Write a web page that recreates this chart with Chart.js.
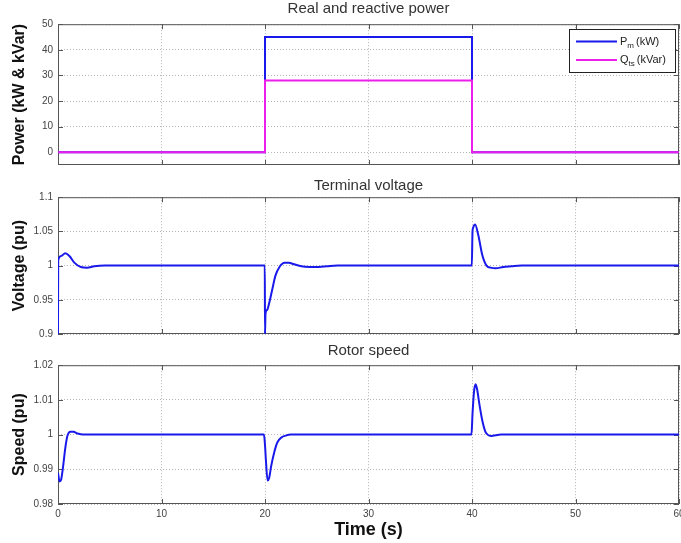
<!DOCTYPE html>
<html>
<head>
<meta charset="utf-8">
<script src="https://cdn.jsdelivr.net/npm/chart.js@4/dist/chart.umd.min.js"></script>
<style>
  body { margin: 0; background: #fff; }
  #wrap { position: relative; width: 681px; height: 543px; }
  canvas { position: absolute; left: 0; }
</style>
</head>
<body>
<div id="wrap">
  <canvas id="power" width="681" height="178" style="top:0"></canvas>
  <canvas id="voltage" width="681" height="168" style="top:177px"></canvas>
  <canvas id="speed" width="681" height="201" style="top:342px"></canvas>
</div>
<script>
// tick values
const timeTicks = [0, 10, 20, 30, 40, 50, 60];
const powerTicks = [0, 10, 20, 30, 40, 50];
const voltTicks = [0.9, 0.95, 1, 1.05, 1.1];
const speedTicks = [0.98, 0.99, 1, 1.01, 1.02];

// real and reactive power (step input)
const powerTime = [0, 20, 20, 40, 40, 60];
const pmValues = [0, 0, 45, 45, 0, 0];
const qtsValues = [0, 0, 28, 28, 0, 0];

// legend text parts (main letter, subscript, unit)
const legendMain = ['P', 'Q'];
const legendSub = ['m', 'ts'];
const legendUnit = ['(kW)', '(kVar)'];

// terminal voltage (pu)
const voltTime = [0, 0.02, 0.3, 0.7, 1.1, 1.6, 2.2, 2.8, 3.5, 4.5, 5.5,
  19.98, 20.0, 20.05, 20.2, 20.4, 20.7, 21.0, 21.4, 21.9, 22.3, 22.8, 23.5, 24.3, 25.2, 26.0, 27.0,
  39.98, 40.05, 40.1, 40.3, 40.6, 41.0, 41.4, 41.8, 42.3, 43.0, 43.8, 44.8, 60];
const voltValues = [0.9, 1.008, 1.014, 1.018, 1.014, 1.004, 0.998, 0.997, 0.999, 1.0, 1.0,
  1.0, 0.9, 0.93, 0.935, 0.945, 0.965, 0.985, 0.998, 1.004, 1.004, 1.002, 0.999, 0.998, 0.998, 0.999, 1.0,
  1.0, 1.05, 1.055, 1.06, 1.045, 1.015, 1.0, 0.997, 0.996, 0.998, 0.999, 1.0, 1.0];

// rotor speed (pu)
const speedTime = [0, 0.15, 0.3, 0.5, 0.7, 0.9, 1.2, 1.5, 1.9, 2.4, 3,
  19.9, 20.0, 20.1, 20.25, 20.4, 20.6, 20.9, 21.2, 21.6, 22.0, 22.5, 23,
  39.95, 40.05, 40.2, 40.35, 40.5, 40.7, 41.0, 41.3, 41.6, 41.9, 42.3, 42.8, 60];
const speedValues = [0.989, 0.9865, 0.987, 0.991, 0.996, 0.9995, 1.0008, 1.0008, 1.0003, 1.0, 1.0,
  1.0, 0.997, 0.992, 0.9868, 0.9875, 0.991, 0.995, 0.9978, 0.9992, 0.9997, 1.0, 1.0,
  1.0, 1.006, 1.0125, 1.0145, 1.013, 1.009, 1.004, 1.0008, 0.9998, 0.9996, 0.9998, 1.0, 1.0];

const BLUE = 'rgb(25,25,235)';
const MAGENTA = 'rgb(235,30,235)';

Chart.defaults.font.family = '"Liberation Sans", Arial, sans-serif';
Chart.defaults.animation = false;

const pts = (xs, ys) => xs.map((x, i) => ({x: x, y: ys[i]}));

// box around the axes plus small inward ticks, like matlab
const framePlugin = {
  id: 'frame',
  beforeDatasetsDraw(chart) {
    const a = chart.chartArea, ctx = chart.ctx;
    ctx.save();
    ctx.strokeStyle = '#555';
    ctx.lineWidth = 1;
    ctx.strokeRect(a.left + 0.5, a.top + 0.5, a.right - a.left - 1, a.bottom - a.top - 1);
    ctx.beginPath();
    chart.scales.x.ticks.forEach(t => {
      const px = Math.round(chart.scales.x.getPixelForValue(t.value)) + 0.5;
      ctx.moveTo(px, a.top); ctx.lineTo(px, a.top + 5);
      ctx.moveTo(px, a.bottom); ctx.lineTo(px, a.bottom - 5);
    });
    chart.scales.y.ticks.forEach(t => {
      const py = Math.round(chart.scales.y.getPixelForValue(t.value)) + 0.5;
      ctx.moveTo(a.left, py); ctx.lineTo(a.left + 5, py);
      ctx.moveTo(a.right, py); ctx.lineTo(a.right - 5, py);
    });
    ctx.stroke();
    ctx.restore();
  }
};

// legend box drawn inside the top right of the axes
const boxLegend = {
  id: 'boxLegend',
  afterDraw(chart, args, opts) {
    if (!opts.show) return;
    const a = chart.chartArea, ctx = chart.ctx;
    const w = 106, h = 43;
    const x0 = Math.round(a.right - 4 - w), y0 = Math.round(a.top + 5);
    ctx.save();
    ctx.fillStyle = '#fff';
    ctx.fillRect(x0, y0, w, h);
    ctx.strokeStyle = '#222';
    ctx.lineWidth = 1;
    ctx.strokeRect(x0 + 0.5, y0 + 0.5, w, h);
    chart.data.datasets.forEach((ds, i) => {
      const y = y0 + 12.5 + i * 18.5;
      ctx.strokeStyle = ds.borderColor;
      ctx.lineWidth = 2;
      ctx.beginPath();
      ctx.moveTo(x0 + 7, y); ctx.lineTo(x0 + 48, y);
      ctx.stroke();
      ctx.fillStyle = '#222';
      ctx.textBaseline = 'middle';
      let tx = x0 + 51;
      ctx.font = '11px "Liberation Sans", Arial, sans-serif';
      ctx.fillText(legendMain[i], tx, y);
      tx += ctx.measureText(legendMain[i]).width;
      ctx.font = '8px "Liberation Sans", Arial, sans-serif';
      ctx.fillText(legendSub[i], tx, y + 4);
      tx += ctx.measureText(legendSub[i]).width + 2;
      ctx.font = '11px "Liberation Sans", Arial, sans-serif';
      ctx.fillText(legendUnit[i], tx, y);
    });
    ctx.restore();
  }
};

function xAxis(height, showLabels) {
  return {
    type: 'linear', min: 0, max: 60,
    afterBuildTicks: s => { s.ticks = timeTicks.map(v => ({value: v})); },
    afterFit: s => { s.height = height; s.paddingLeft = 0; s.paddingRight = 0; },
    grid: {color: '#b5b5b5', drawTicks: false},
    border: {display: false, dash: [1, 2]},
    ticks: {display: showLabels, padding: 4, font: {size: 10}, color: '#444', maxRotation: 0},
    title: {display: showLabels, text: 'Time (s)', font: {size: 18, weight: 'bold'}, color: '#111', padding: {top: 0, bottom: 2}}
  };
}

function yAxis(min, max, tickVals, label) {
  return {
    min: min, max: max,
    afterBuildTicks: s => { s.ticks = tickVals.map(v => ({value: v})); },
    afterFit: s => { s.width = 58; s.paddingTop = 0; s.paddingBottom = 0; },
    grid: {color: '#b5b5b5', drawTicks: false},
    border: {display: false, dash: [1, 2]},
    ticks: {padding: 5, font: {size: 10}, color: '#444', callback: v => String(v)},
    title: {display: true, text: label, font: {size: 16, weight: 'bold'}, color: '#111', padding: {top: 10, bottom: 0}}
  };
}

function titleOpts(text, padBottom) {
  return {display: true, text: text, fullSize: false, color: '#333',
    font: {size: 15, weight: 'normal'}, padding: {top: 0, bottom: padBottom}};
}

const lineStyle = {pointRadius: 0, borderWidth: 2, fill: false};

new Chart(document.getElementById('power'), {
  type: 'line',
  data: {
    datasets: [
      Object.assign({label: 'Pm (kW)', data: pts(powerTime, pmValues), borderColor: BLUE, tension: 0, order: 1}, lineStyle),
      Object.assign({label: 'Qts (kVar)', data: pts(powerTime, qtsValues), borderColor: MAGENTA, tension: 0, order: 0}, lineStyle)
    ]
  },
  options: {
    responsive: false,
    layout: {autoPadding: false, padding: {left: 0, right: 2, top: 0, bottom: 0}},
    scales: {x: xAxis(13, false), y: yAxis(-5, 50, powerTicks, 'Power (kW & kVar)')},
    plugins: {legend: {display: false}, tooltip: {enabled: false},
      title: titleOpts('Real and reactive power', 6.2), boxLegend: {show: true}}
  },
  plugins: [framePlugin, boxLegend]
});

new Chart(document.getElementById('voltage'), {
  type: 'line',
  data: {
    datasets: [
      Object.assign({label: 'Voltage', data: pts(voltTime, voltValues), borderColor: BLUE, cubicInterpolationMode: 'monotone'}, lineStyle)
    ]
  },
  options: {
    responsive: false,
    layout: {autoPadding: false, padding: {left: 0, right: 2, top: 0, bottom: 0}},
    scales: {x: xAxis(11, false), y: yAxis(0.9, 1.1, voltTicks, 'Voltage (pu)')},
    plugins: {legend: {display: false}, tooltip: {enabled: false},
      title: titleOpts('Terminal voltage', 2.2), boxLegend: {show: false}}
  },
  plugins: [framePlugin, boxLegend]
});

new Chart(document.getElementById('speed'), {
  type: 'line',
  data: {
    datasets: [
      Object.assign({label: 'Speed', data: pts(speedTime, speedValues), borderColor: BLUE, cubicInterpolationMode: 'monotone'}, lineStyle)
    ]
  },
  options: {
    responsive: false,
    layout: {autoPadding: false, padding: {left: 0, right: 2, top: 0, bottom: 0}},
    scales: {x: xAxis(39, true), y: yAxis(0.98, 1.02, speedTicks, 'Speed (pu)')},
    plugins: {legend: {display: false}, tooltip: {enabled: false},
      title: titleOpts('Rotor speed', 5.2), boxLegend: {show: false}}
  },
  plugins: [framePlugin, boxLegend]
});
</script>
</body>
</html>
